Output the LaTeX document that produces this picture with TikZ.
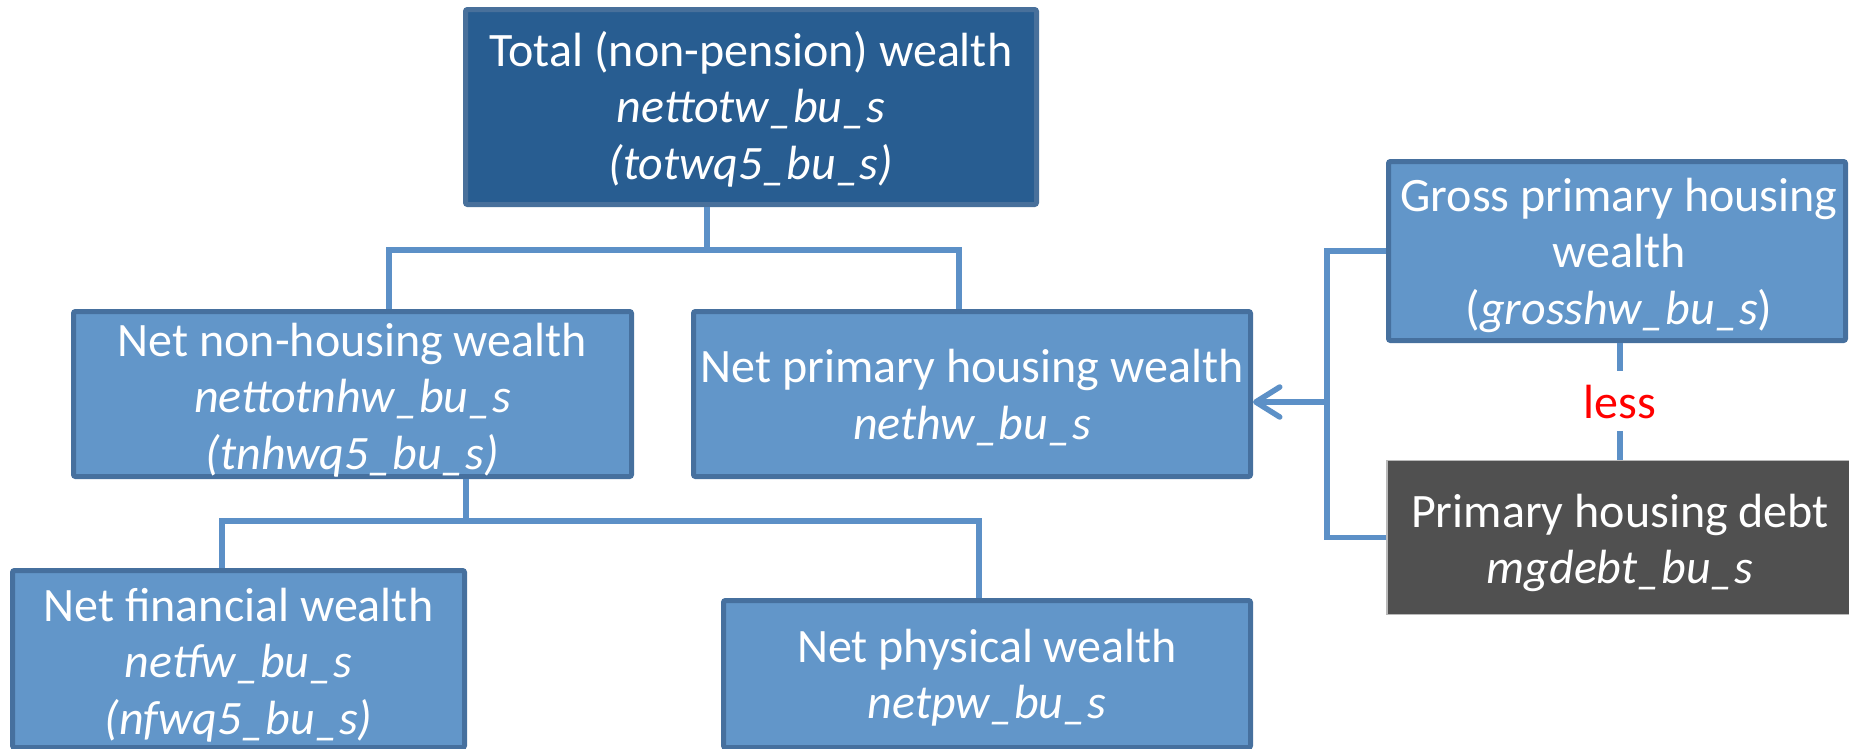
\documentclass[tikz,border=0pt]{standalone}
\usepackage{fontspec}
\setmainfont{Carlito}
\usetikzlibrary{arrows.meta}

\definecolor{boxfill}{RGB}{98,150,201}
\definecolor{boxline}{RGB}{70,112,158}
\definecolor{topfill}{RGB}{40,93,145}
\definecolor{topline}{RGB}{72,112,155}
\definecolor{debtfill}{RGB}{80,80,80}
\definecolor{wire}{RGB}{92,144,199}

% strut giving every text line the same height (40pt) and depth (15pt)
\newcommand\linestrut{\rule[-15pt]{0pt}{55pt}}

\begin{document}
\begin{tikzpicture}[x=1pt,y=-1pt,
  box/.style={draw=boxline, fill=boxfill, line width=5pt, rounded corners=2pt, inner sep=0pt},
  topbox/.style={box, draw=topline, fill=topfill},
  debtbox/.style={draw=gray!55, line width=1.2pt, fill=debtfill, inner sep=0pt},
  boxtext/.style={text=white, font=\fontsize{48}{56.5}\selectfont, align=center, inner sep=0pt},
  lesstext/.style={text=red, font=\fontsize{48}{56.5}\selectfont, inner xsep=4pt, inner ysep=13pt, text height=34pt, text depth=0pt},
  conn/.style={draw=wire, line width=5.5pt},
  arrowtip/.style={-{Straight Barb[length=24pt, width=30pt, line cap=round, line join=round]}}
]
\useasboundingbox (0,0) rectangle (1849,748);

% boxes
\node[topbox, minimum width=571pt, minimum height=195pt] (top) at (751,107) {};
\node[box, minimum width=558pt, minimum height=165pt] (nnh) at (352.5,394) {};
\node[box, minimum width=557pt, minimum height=165pt] (nph) at (972,394) {};
\node[box, minimum width=452pt, minimum height=177pt] (nfw) at (238.5,659) {};
\node[box, minimum width=527pt, minimum height=147pt] (npw) at (987,674) {};
\node[box, minimum width=457pt, minimum height=179pt] (gross) at (1617,251) {};
\node[debtbox, minimum width=470pt, minimum height=154pt] (debt) at (1622,537.5) {};

% box texts
\node[boxtext] (topt) at (top.center |- 0,110) {\linestrut Total (non-pension) wealth\\\textit{nettotw\_bu\_s}\\\linestrut\textit{(totwq5\_bu\_s)}};
\node[boxtext] (nnht) at (nnh.center |- 0,400) {\linestrut Net non-housing wealth\\\textit{nettotnhw\_bu\_s}\\\linestrut\textit{(tnhwq5\_bu\_s)}};
\node[boxtext] (npht) at (nph.center |- 0,398.5) {\linestrut Net primary housing wealth\\\linestrut\textit{nethw\_bu\_s}};
\node[boxtext] (nfwt) at (nfw.center |- 0,665) {\linestrut Net financial wealth\\\textit{netfw\_bu\_s}\\\linestrut\textit{(nfwq5\_bu\_s)}};
\node[boxtext] (npwt) at (npw.center |- 0,678) {\linestrut Net physical wealth\\\linestrut\textit{netpw\_bu\_s}};
\node[boxtext] (grosst) at (1619,255) {\linestrut Gross primary housing\\wealth\\\linestrut(\textit{grosshw\_bu\_s})};
\node[boxtext] (debtt) at (1620,543) {\linestrut Primary housing debt\\\linestrut\textit{mgdebt\_bu\_s}};

% first level of the tree
\coordinate (j1) at (707,250);
\coordinate (b1l) at (389,250);
\coordinate (b1r) at (959,250);
\draw[conn] (top.south -| j1) -- (j1);
\draw[conn] (nnh.north -| b1l) -- (b1l) -- (b1r) -- (nph.north -| b1r);

% second level of the tree
\coordinate (j2) at (466,521);
\coordinate (b2l) at (222,521);
\coordinate (b2r) at (979,521);
\draw[conn] (nnh.south -| j2) -- (j2);
\draw[conn] (nfw.north -| b2l) -- (b2l) -- (b2r) -- (npw.north -| b2r);

% gross less debt gives net housing wealth
\node[lesstext] (less) at (1620,401) {less};
\draw[conn] (gross.south -| less) -- (less);
\draw[conn] (less) -- (debt.north -| less);

\coordinate (br) at (1327,402);
\draw[conn] (gross.west) -- (gross.west -| br) -- (debt.west -| br) -- (debt.west);
\draw[conn, arrowtip] (br) -- (br -| nph.east);
\end{tikzpicture}
\end{document}
